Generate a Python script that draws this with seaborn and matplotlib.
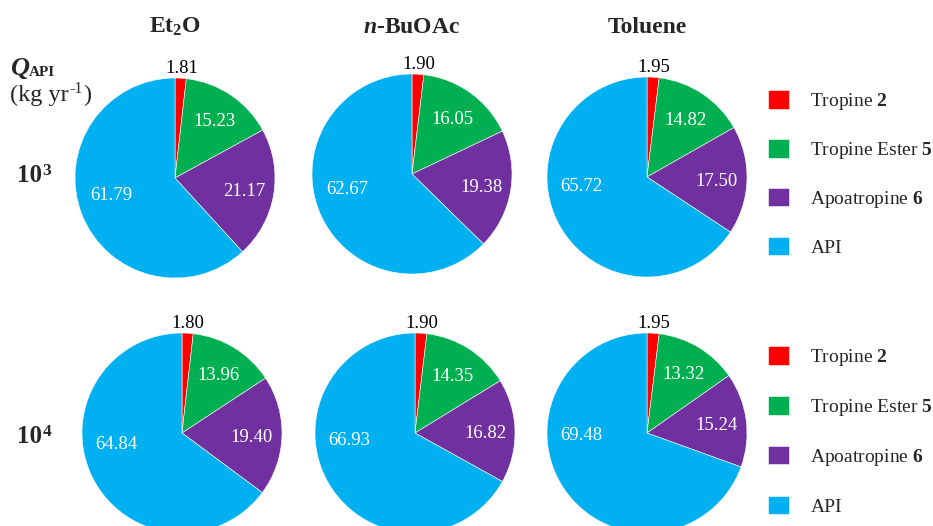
import numpy as np
import matplotlib
matplotlib.use("Agg")
import matplotlib.pyplot as plt
import seaborn as sns

# composition (%) of the output stream, order: tropine, tropine ester, apoatropine, API
components = [r"Tropine $\mathbf{2}$", r"Tropine Ester $\mathbf{5}$",
              r"Apoatropine $\mathbf{6}$", "API"]
solvents = [r"$\mathbf{Et_2O}$", r"$\mathbfit{n}$-BuOAc", "Toluene"]
throughput_exp = ["3", "4"]
colors = ["#FF0000", "#00B050", "#7030A0", "#00B0F0"]

et2o_1e3 = [1.81, 15.23, 21.17, 61.79]
buoac_1e3 = [1.90, 16.05, 19.38, 62.67]
toluene_1e3 = [1.95, 14.82, 17.50, 65.72]
et2o_1e4 = [1.80, 13.96, 19.40, 64.84]
buoac_1e4 = [1.90, 14.35, 16.82, 66.93]
toluene_1e4 = [1.95, 13.32, 15.24, 69.48]

rows = [[et2o_1e3, buoac_1e3, toluene_1e3],
        [et2o_1e4, buoac_1e4, toluene_1e4]]

sns.set_style("white")
plt.rcParams['font.family'] = ['Liberation Serif', 'DejaVu Serif']
plt.rcParams['mathtext.fontset'] = 'custom'
plt.rcParams['mathtext.rm'] = 'Liberation Serif'
plt.rcParams['mathtext.it'] = 'Liberation Serif:italic'
plt.rcParams['mathtext.bf'] = 'Liberation Serif:bold'
plt.rcParams['mathtext.bfit'] = 'Liberation Serif:italic:bold'

W, H = 933, 526
R = 100
centers = [[(175, 178), (412, 174), (647, 177)],
           [(182, 433), (415, 433), (647, 433)]]

fig = plt.figure(figsize=(9.33, 5.26), dpi=100)
ax = fig.add_axes([0, 0, 1, 1])

row_wedges = []
for i, row in enumerate(rows):
    for j, vals in enumerate(row):
        cx, cy = centers[i][j]
        cy = H - cy
        wedges, _ = ax.pie(vals, colors=colors, startangle=90, counterclock=False,
                           center=(cx, cy), radius=R,
                           wedgeprops=dict(linewidth=0.4, edgecolor='white'))
        if j == 0:
            row_wedges.append(wedges)
        for k, (w, v) in enumerate(zip(wedges, vals)):
            span = w.theta2 - w.theta1
            mid = (w.theta1 + w.theta2) / 2
            if k == 0:
                d, c = 1.12 * R, 'black'
            elif k == 3:
                mid = 180 + max(0, (250 - span) * 0.5)
                d, c = 0.66 * R, 'white'
            else:
                d, c = 0.70 * R, 'white'
            x = cx + d * np.cos(np.deg2rad(mid))
            y = cy + d * np.sin(np.deg2rad(mid))
            ax.text(x, y, "%.2f" % v, color=c, fontsize=13.5,
                    ha='center', va='center_baseline')

ax.set_xlim(0, W)
ax.set_ylim(0, H)
ax.set_aspect('auto')
ax.axis('off')

# column titles
for j, s in enumerate(solvents):
    ax.text(centers[0][j][0], H - 33, s, fontsize=17, fontweight='bold',
            ha='center', va='baseline')

renderer = fig.canvas.get_renderer()


def right_edge(t):
    return ax.transData.inverted().transform(t.get_window_extent(renderer))[1][0]


# row header
ax.text(10, H - 75, "Q", fontsize=19, fontweight='bold', fontstyle='italic',
        ha='left', va='baseline')
ax.text(29, H - 76, "API", fontsize=11, fontweight='bold', ha='left', va='baseline')

# "(kg yr-1)" built from pieces so the superscript sits close, like the original
t1 = ax.text(10, H - 101, "(kg yr", fontsize=17.5, ha='left', va='baseline')
t2 = ax.text(right_edge(t1) + 0.5, H - 93, "-1", fontsize=11.5, ha='left', va='baseline')
ax.text(right_edge(t2) + 0.5, H - 101, ")", fontsize=17.5, ha='left', va='baseline')

# throughput labels 10^3 / 10^4
for exp, yb in zip(throughput_exp, [182, 443]):
    t = ax.text(17, H - yb, "10", fontsize=18, fontweight='bold', ha='left', va='baseline')
    ax.text(right_edge(t) + 0.5, H - yb + 7, exp, fontsize=12.5, fontweight='bold',
            ha='left', va='baseline')

# legends, one per row
for wedges, yc, sp in zip(row_wedges, [173.5, 431], [1.39, 1.44]):
    fig.legend(wedges, components, loc='center left',
               bbox_to_anchor=(768 / W, 1 - yc / H), frameon=False,
               fontsize=14, handlelength=1.08, handleheight=1.08,
               handletextpad=1.1, labelspacing=sp,
               borderpad=0, borderaxespad=0)

fig.savefig("out.png", dpi=100)
